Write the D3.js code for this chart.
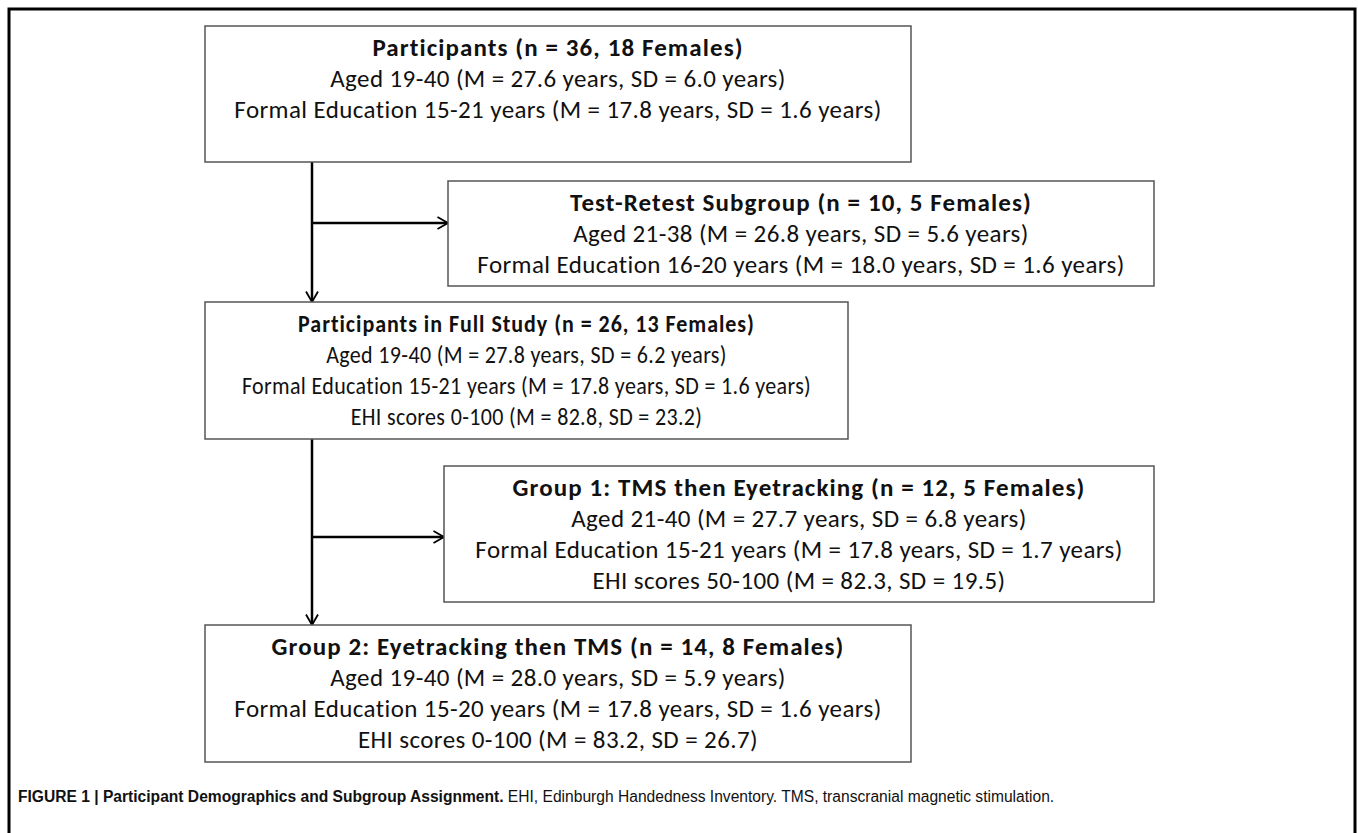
<!DOCTYPE html>
<html lang="en">
<head>
<meta charset="utf-8">
<title>Participant flow</title>
<script src="https://d3js.org/d3.v7.min.js"></script>
<style>
body { margin: 0; background: #fff; }
.box { fill: #fff; stroke: #555; stroke-width: 1.5; }
.link { fill: none; stroke: #000; stroke-width: 2.5; }
.boxtext { font-family: Carlito, Lato, "Open Sans", sans-serif; font-size: 25px; letter-spacing: 0.4px; fill: #111; }
.title { font-weight: bold; letter-spacing: 1.1px; }
.cap { font-family: "Liberation Sans Narrow", "Arial Narrow", "Liberation Sans", sans-serif; font-size: 15.6px; fill: #111; }
</style>
</head>
<body>
<svg id="svgMain" width="1358" height="833"></svg>
<script>

// box contents
var titles = [
  "Participants (n = 36, 18 Females)",
  "Test-Retest Subgroup (n = 10, 5 Females)",
  "Participants in Full Study (n = 26, 13 Females)",
  "Group 1: TMS then Eyetracking (n = 12, 5 Females)",
  "Group 2: Eyetracking then TMS (n = 14, 8 Females)"
];
var ageLines = [
  "Aged 19-40 (M = 27.6 years, SD = 6.0 years)",
  "Aged 21-38 (M = 26.8 years, SD = 5.6 years)",
  "Aged 19-40 (M = 27.8 years, SD = 6.2 years)",
  "Aged 21-40 (M = 27.7 years, SD = 6.8 years)",
  "Aged 19-40 (M = 28.0 years, SD = 5.9 years)"
];
var eduLines = [
  "Formal Education 15-21 years (M = 17.8 years, SD = 1.6 years)",
  "Formal Education 16-20 years (M = 18.0 years, SD = 1.6 years)",
  "Formal Education 15-21 years (M = 17.8 years, SD = 1.6 years)",
  "Formal Education 15-21 years (M = 17.8 years, SD = 1.7 years)",
  "Formal Education 15-20 years (M = 17.8 years, SD = 1.6 years)"
];
var ehiLines = [
  null,
  null,
  "EHI scores 0-100 (M = 82.8, SD = 23.2)",
  "EHI scores 50-100 (M = 82.3, SD = 19.5)",
  "EHI scores 0-100 (M = 83.2, SD = 26.7)"
];
var captionBold = "FIGURE 1 | Participant Demographics and Subgroup Assignment.";
var captionText = " EHI, Edinburgh Handedness Inventory. TMS, transcranial magnetic stimulation.";

// layout (pixels); sx = horizontal squeeze of the text in that box
var layout = [
  {x0: 205, x1: 911,  y0: 26,  y1: 162, sx: 1},
  {x0: 448, x1: 1154, y0: 181, y1: 286, sx: 1},
  {x0: 205, x1: 848,  y0: 302, y1: 439, sx: 0.88},
  {x0: 444, x1: 1154, y0: 466, y1: 602, sx: 1},
  {x0: 205, x1: 911,  y0: 625, y1: 762, sx: 1}
];
var trunkX = 312, branchY = [223, 537];

var svg = d3.select("svg");

svg.append("defs").append("marker")
    .attr("id", "arrow")
    .attr("viewBox", "0 0 10 10")
    .attr("refX", 9).attr("refY", 5)
    .attr("markerWidth", 6).attr("markerHeight", 6)
    .attr("markerUnits", "strokeWidth")
    .attr("orient", "auto")
  .append("path")
    .attr("d", "M2,1 L9,5 L2,9")
    .attr("fill", "none")
    .attr("stroke", "#000")
    .attr("stroke-width", 1.2);

// outer frame (open at the bottom)
svg.append("path")
    .attr("d", "M9,840 L9,9 L1355,9 L1355,840")
    .attr("fill", "none")
    .attr("stroke", "#000")
    .attr("stroke-width", 3);

var boxes = titles.map(function(t, i) {
  return {lines: [t, ageLines[i], eduLines[i], ehiLines[i]].filter(function(s) { return s; }), pos: layout[i]};
});

// connectors
var links = [
  [[trunkX, layout[0].y1], [trunkX, layout[2].y0]],
  [[trunkX, branchY[0]], [layout[1].x0, branchY[0]]],
  [[trunkX, layout[2].y1], [trunkX, layout[4].y0]],
  [[trunkX, branchY[1]], [layout[3].x0, branchY[1]]]
];
svg.selectAll(".link")
  .data(links)
  .enter().append("path")
    .attr("class", "link")
    .attr("d", d3.line())
    .attr("marker-end", "url(#arrow)");

var g = svg.selectAll(".node")
  .data(boxes)
  .enter().append("g")
    .attr("class", "node");

g.append("rect")
    .attr("class", "box")
    .attr("x", function(d) { return d.pos.x0; })
    .attr("y", function(d) { return d.pos.y0; })
    .attr("width", function(d) { return d.pos.x1 - d.pos.x0; })
    .attr("height", function(d) { return d.pos.y1 - d.pos.y0; });

g.each(function(d) {
  var cx = (d.pos.x0 + d.pos.x1) / 2;
  d3.select(this).append("g")
      .attr("transform", "translate(" + cx + ",0) scale(" + d.pos.sx + ",1)")
    .selectAll("text")
    .data(d.lines)
    .enter().append("text")
      .attr("class", function(s, i) { return i === 0 ? "boxtext title" : "boxtext"; })
      .attr("x", 0)
      .attr("y", function(s, i) { return d.pos.y0 + 30 + 31 * i; })
      .attr("text-anchor", "middle")
      .text(function(s) { return s; });
});

var cap = svg.append("text")
    .attr("class", "cap")
    .attr("x", 18)
    .attr("y", 802);
cap.append("tspan").attr("font-weight", "bold").text(captionBold);
cap.append("tspan").text(captionText);

</script>
</body>
</html>
